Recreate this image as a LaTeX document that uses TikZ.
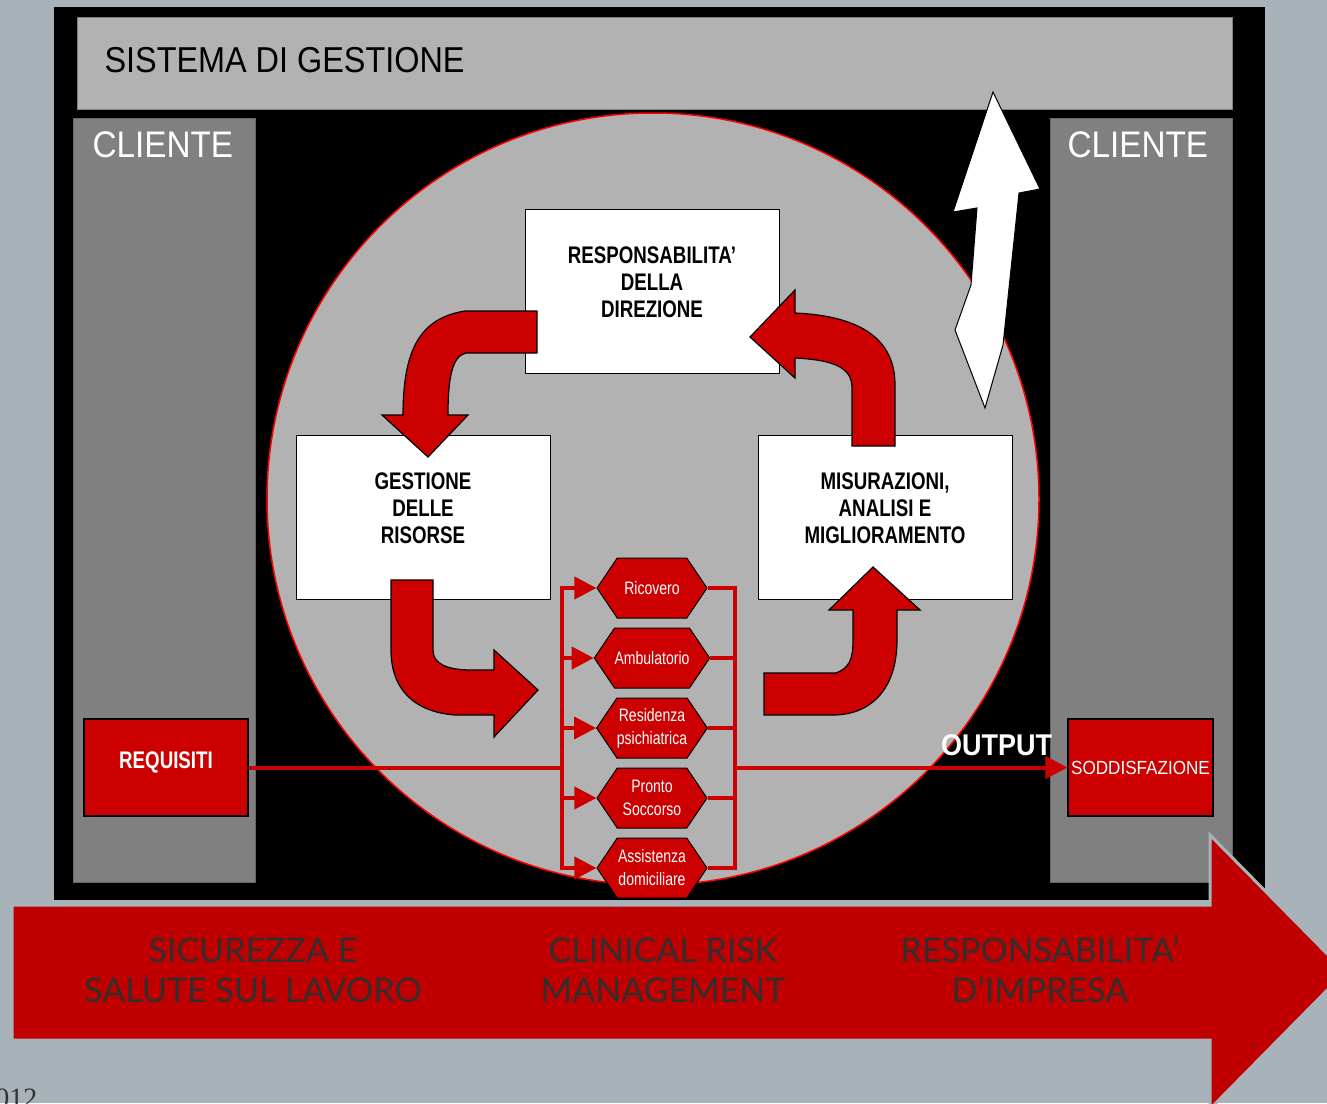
\documentclass[tikz,border=0pt]{standalone}
\usepackage{fontspec}
\setmainfont{Liberation Sans}
\newfontfamily\labelfont[FakeStretch=0.9]{Liberation Sans}
\newfontfamily\boxfont[FakeStretch=0.78]{Liberation Sans}
\newfontfamily\bannerfont{Lato}
\newfontfamily\yearfont{Liberation Serif}
\usetikzlibrary{positioning,shapes.symbols,arrows.meta}

\definecolor{slidebg}{HTML}{A7B3B8}
\definecolor{panelgray}{HTML}{B2B2B2}
\definecolor{colgray}{HTML}{808080}
\definecolor{boxred}{HTML}{CC0000}
\definecolor{bannerred}{HTML}{C00000}
\definecolor{bannertext}{HTML}{332E2E}

\tikzset{
  column/.style={fill=colgray, draw=black!60, line width=1pt,
    minimum width=182pt, minimum height=764pt, inner sep=0pt},
  process/.style={draw=black, fill=white, line width=1pt,
    minimum width=254pt, minimum height=164pt, inner sep=0pt, align=center,
    text depth=17pt,
    font=\boxfont\bfseries\fontsize{24}{27}\selectfont},
  endbox/.style={draw=black, fill=boxred, line width=1.2pt, text=white,
    minimum height=97pt, inner sep=0pt, align=center},
  hexa/.style={signal, signal to=east and west, signal pointer angle=112,
    draw=black, fill=boxred, line width=1pt, text=white,
    minimum width=110pt, minimum height=60pt, inner sep=0pt, align=center,
    font=\boxfont\fontsize{18}{23}\selectfont},
  bigarrow/.style={draw=black, fill=boxred, line width=1.2pt},
  redline/.style={draw=boxred, line width=4pt},
  redtip/.style={redline, -{Triangle[length=22pt,width=22pt]}},
  bannertxt/.style={text=bannertext, align=center,
    font=\bannerfont\fontsize{34}{40}\selectfont},
}

\begin{document}
\begin{tikzpicture}[x=1pt, y=-1pt]

\useasboundingbox (0,0) rectangle (1327,1103);
\clip (0,0) rectangle (1327,1103);

% Slide background
\fill[slidebg] (0,0) rectangle (1327,1103);

% Black panel
\node [fill=black,
	minimum width=1211pt,
	minimum height=893pt,
	inner sep=0pt
] (panel) at (659.5, 453.5) {};

% Sistema di gestione
\node [fill=panelgray,
	draw=colgray,
	line width=1pt,
	minimum width=1155pt,
	minimum height=92pt,
	inner sep=0pt
] (sistema) at (654.5, 63) {};
\node [anchor=west,
	font=\labelfont\fontsize{36}{40}\selectfont
] (sistema_label) at (101, 60) {SISTEMA DI GESTIONE};

% Cliente (left)
\node [column] (cliente_in) at (164, 500) {};
\node [anchor=west, text=white,
	font=\labelfont\fontsize{37}{40}\selectfont
] (cliente_in_label) at (89, 145) {CLIENTE};

% Cliente (right)
\node [column] (cliente_out) at (1141, 500) {};
\node [anchor=west, text=white,
	font=\labelfont\fontsize{37}{40}\selectfont
] (cliente_out_label) at (1064, 145) {CLIENTE};

% Process circle
\node [circle,
	draw=red,
	fill=panelgray,
	line width=1.5pt,
	minimum size=772pt
] (ciclo) at (653, 499) {};

% Responsabilita della direzione
\node [process] (direzione) at (652, 291) {
RESPONSABILITA’\\
DELLA\\
DIREZIONE
};

% Gestione delle risorse
\node [process] (risorse) at (423, 517) {
GESTIONE\\
DELLE\\
RISORSE
};

% Misurazioni
\node [process] (misurazioni) at (885, 517) {
MISURAZIONI,\\
ANALISI E\\
MIGLIORAMENTO
};

% Curved block arrows
\draw[bigarrow] (537,311) -- (465,311) .. controls (420,318) and (403,350) .. (403,415)
	-- (382,415) -- (428,457) -- (468,415) -- (448,415)
	.. controls (448,378) and (452,356) .. (466,353) -- (537,353) -- cycle;
\draw[bigarrow] (852,446) -- (852,388) .. controls (852,368) and (835,360) .. (795,358)
	-- (795,378) -- (750,337) -- (795,290) -- (795,313)
	.. controls (862,316) and (895,340) .. (895,385) -- (895,446) -- cycle;
\draw[bigarrow] (391,580) -- (433,580) -- (433,650) .. controls (433,663) and (445,670) .. (472,670)
	-- (494,670) -- (494,650) -- (538,690) -- (494,737) -- (494,715) -- (455,715)
	.. controls (415,712) and (391,690) .. (391,650) -- cycle;
\draw[bigarrow] (764,673) -- (836,673) .. controls (849,668) and (853,660) .. (853,640)
	-- (853,610) -- (829,610) -- (873,567) -- (920,610) -- (897,610) -- (897,640)
	.. controls (897,690) and (870,715) .. (833,715) -- (764,715) -- cycle;

% Feedback arrow
\draw[fill=white, draw=black, line width=1pt] (993,92) -- (1040,189) -- (1019,193)
	-- (1003,345) -- (985,408) -- (955,330) -- (971,285) -- (977,208) -- (953,212) -- cycle;

% Processes
\node [hexa] (ricovero) at (652, 588) {Ricovero};
\node [hexa] (ambulatorio) at (652, 658) {Ambulatorio};
\node [hexa] (residenza) at (652, 728) {Residenza\\psichiatrica};
\node [hexa] (pronto) at (652, 798) {Pronto\\Soccorso};
\node [hexa] (assistenza) at (652, 868) {Assistenza\\domiciliare};

% Input and output
\node [endbox,
	minimum width=164pt,
	text depth=14pt,
	font=\boxfont\bfseries\fontsize{24}{27}\selectfont
] (requisiti) at (166, 767.5) {REQUISITI};
\node [endbox,
	minimum width=145pt,
	font=\labelfont\fontsize{19}{21}\selectfont
] (soddisfazione) at (1140.5, 767.5) {SODDISFAZIONE};
\node [anchor=south west, text=white, inner sep=0pt,
	font=\labelfont\bfseries\fontsize{30}{32}\selectfont
] (output) at (941, 756) {OUTPUT};

% Bus lines
\coordinate (bus_in) at (562, 0);
\coordinate (bus_out) at (735, 0);

\draw[redline] (requisiti.east) -- (requisiti.east -| bus_in);
\draw[redline, line cap=rect] (ricovero.west -| bus_in) -- (assistenza.west -| bus_in);
\draw[redline, line cap=rect] (ricovero.east -| bus_out) -- (assistenza.east -| bus_out);
\draw[redtip] (ricovero.west -| bus_in) -- (ricovero.west);
\draw[redtip] (ambulatorio.west -| bus_in) -- (ambulatorio.west);
\draw[redtip] (residenza.west -| bus_in) -- (residenza.west);
\draw[redtip] (pronto.west -| bus_in) -- (pronto.west);
\draw[redtip] (assistenza.west -| bus_in) -- (assistenza.west);
\draw[redline] (ricovero.east) -- (ricovero.east -| bus_out);
\draw[redline] (ambulatorio.east) -- (ambulatorio.east -| bus_out);
\draw[redline] (residenza.east) -- (residenza.east -| bus_out);
\draw[redline] (pronto.east) -- (pronto.east -| bus_out);
\draw[redline] (assistenza.east) -- (assistenza.east -| bus_out);
\draw[redtip] (soddisfazione.west -| bus_out) -- (soddisfazione.west);

% Bottom banner
\draw[fill=bannerred, draw=slidebg, line width=3pt] (12,905) -- (1210,905) -- (1210,835)
	-- (1345,972) -- (1210,1109) -- (1210,1040) -- (12,1040) -- cycle;
\node [bannertxt] (sicurezza) at (253, 970) {SICUREZZA E\\SALUTE SUL LAVORO};
\node [bannertxt] (risk) at (663, 970) {CLINICAL RISK\\MANAGEMENT};
\node [bannertxt] (impresa) at (1040, 970) {RESPONSABILITA’\\D’IMPRESA};

% Year
\node [anchor=base east, text=black!80,
	font=\yearfont\fontsize{28}{30}\selectfont
] (anno) at (41, 1107) {2012};

\end{tikzpicture}
\end{document}
